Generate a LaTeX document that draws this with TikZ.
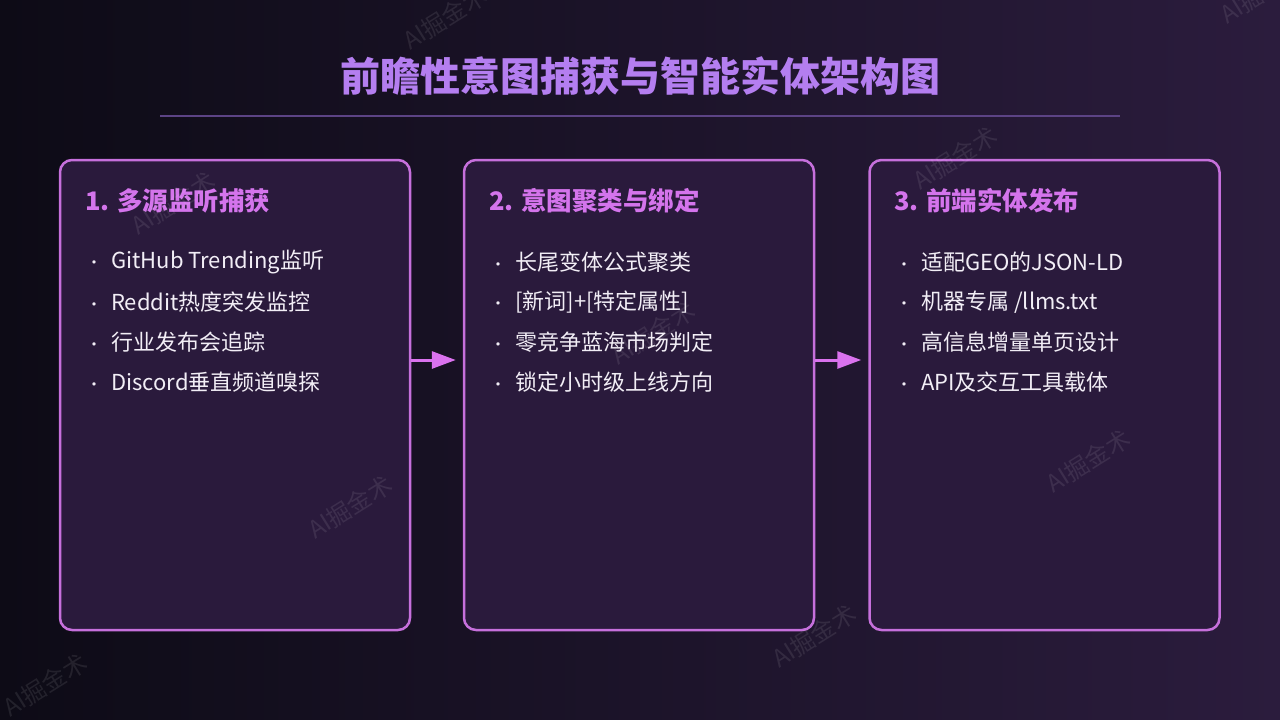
\documentclass[tikz,border=0pt]{standalone}
\usepackage{fontspec}
\setmainfont{Noto Sans CJK SC}
\usetikzlibrary{arrows.meta}
\definecolor{bgL}{HTML}{0D0B16}
\definecolor{bgR}{HTML}{2B1C3D}
\definecolor{titlec}{HTML}{B47EF0}
\definecolor{rulec}{HTML}{5C4385}
\definecolor{boxline}{HTML}{C670DC}
\definecolor{boxfill}{HTML}{2A1A3C}
\definecolor{headc}{HTML}{D474EC}
\definecolor{arrowc}{HTML}{DA72EE}
\definecolor{itemc}{HTML}{F2EEF6}
\tikzset{
  stagebox/.style={draw=boxline, line width=2.5pt, fill=boxfill, rounded corners=12pt,
    minimum width=350pt, minimum height=470pt, inner sep=0pt},
  headtext/.style={anchor=west, inner sep=0pt, text=headc, font=\bfseries\fontsize{25.5}{30}\selectfont},
  itemtext/.style={anchor=west, inner sep=0pt, text=itemc, font=\fontsize{22}{26}\selectfont},
  flowarrow/.style={draw=arrowc, line width=3pt, -{Triangle[length=24pt,width=17pt]}, shorten >=7pt},
  wmark/.style={text=white, opacity=0.09, rotate=32, inner sep=0pt, font=\fontsize{24}{28}\selectfont}
}
\newcommand{\bul}{\makebox[20pt][c]{\fontsize{16}{16}\selectfont •}\hspace{7pt}}
\begin{document}
\begin{tikzpicture}[x=1pt,y=-1pt]
\useasboundingbox (0,0) rectangle (1280,720);
\shade[left color=bgL, right color=bgR] (0,0) rectangle (1280,720);

% title
\node[inner sep=0pt, text=titlec, font=\bfseries\fontsize{40}{46}\selectfont] (title) at (640,76) {前瞻性意图捕获与智能实体架构图};
\coordinate (ruleL) at (160,116);
\coordinate (ruleR) at (1120,116);
\draw[rulec, line width=1.5pt] (ruleL) -- (ruleR);

% boxes
\node[stagebox] (b1) at (235,395) {};
\node[stagebox] (b2) at (639,395) {};
\node[stagebox] (b3) at (1044.5,395) {};

% headings
\node[headtext] (h1) at (85,201) {1. 多源监听捕获};
\node[headtext] (h2) at (489,201) {2. 意图聚类与绑定};
\node[headtext] (h3) at (894,201) {3. 前端实体发布};

% items box 1
\node[itemtext] (i11) at (84,262) {\bul GitHub Trending监听};
\node[itemtext] (i12) at (84,302) {\bul Reddit热度突发监控};
\node[itemtext] (i13) at (84,342) {\bul 行业发布会追踪};
\node[itemtext] (i14) at (84,382) {\bul Discord垂直频道嗅探};
% items box 2
\node[itemtext] (i21) at (488,262) {\bul 长尾变体公式聚类};
\node[itemtext] (i22) at (488,302) {\bul [新词]+[特定属性]};
\node[itemtext] (i23) at (488,342) {\bul 零竞争蓝海市场判定};
\node[itemtext] (i24) at (488,382) {\bul 锁定小时级上线方向};
% items box 3
\node[itemtext] (i31) at (894,262) {\bul 适配GEO的JSON-LD};
\node[itemtext] (i32) at (894,302) {\bul 机器专属 /llms.txt};
\node[itemtext] (i33) at (894,342) {\bul 高信息增量单页设计};
\node[itemtext] (i34) at (894,382) {\bul API及交互工具载体};

% arrows
\draw[flowarrow] ([yshift=35pt]b1.east) -- ([yshift=35pt]b2.west);
\draw[flowarrow] ([yshift=35pt]b2.east) -- ([yshift=35pt]b3.west);

% watermarks
\node[wmark] (w1) at (445,18) {AI掘金术};
\node[wmark] (w2) at (173,203) {AI掘金术};
\node[wmark] (w3) at (955,158) {AI掘金术};
\node[wmark] (w4) at (653,333) {AI掘金术};
\node[wmark] (w5) at (350,507) {AI掘金术};
\node[wmark] (w6) at (1088,461) {AI掘金术};
\node[wmark] (w7) at (814,636) {AI掘金术};
\node[wmark] (w8) at (45,685) {AI掘金术};
\node[wmark] (w9) at (1262,-8) {AI掘金术};
\end{tikzpicture}
\end{document}
